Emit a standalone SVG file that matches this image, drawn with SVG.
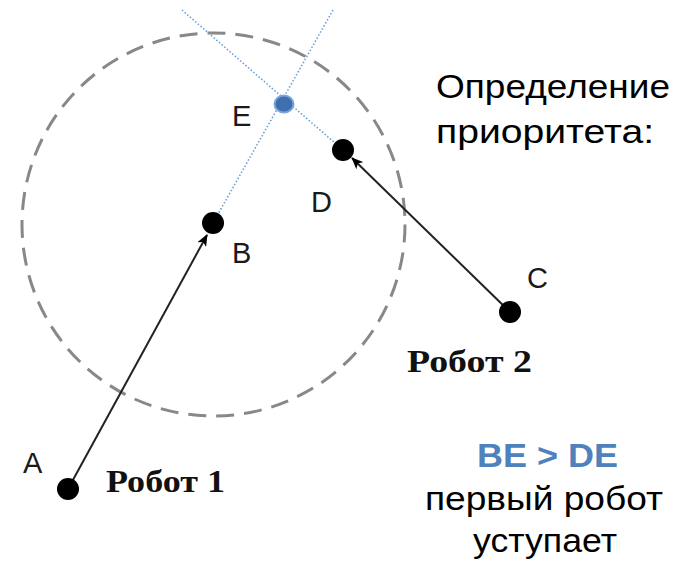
<svg xmlns="http://www.w3.org/2000/svg" width="685" height="564" viewBox="0 0 685 564">
<style>
.lbl{font-family:"Liberation Sans",Arial,sans-serif;font-size:29px;fill:#1a1a1a}
.rob{font-family:"Liberation Serif","Times New Roman",serif;font-size:32px;font-weight:bold;fill:#111}
.txt{font-family:"Liberation Sans",Arial,sans-serif;font-size:33px;fill:#000}
.dot{fill:#000}
.guide{stroke:#6a9fd8;stroke-width:1.6;stroke-dasharray:1.5 2;fill:none}
.arr{stroke:#222;stroke-width:2;fill:none;marker-end:url(#ah)}
</style>
<defs>
<marker id="ah" viewBox="0 0 12 10" refX="11" refY="5" markerWidth="12" markerHeight="10" markerUnits="userSpaceOnUse" orient="auto">
<path d="M0,0 L12,5 L0,10 L3,5 Z" fill="#000"/>
</marker>
</defs>
<rect width="685" height="564" fill="#fff"/>
<circle cx="213.5" cy="224.5" r="191.5" fill="none" stroke="#888" stroke-width="3" stroke-dasharray="18 10"/>
<g id="connectors">
<line class="guide" x1="182" y1="10" x2="343" y2="150"/>
<line class="guide" x1="333" y1="10" x2="213" y2="223"/>
<line class="arr" x1="68" y1="489" x2="207" y2="235"/>
<line class="arr" x1="510" y1="312" x2="352" y2="158"/>
</g>
<g id="nodeA"><circle class="dot" cx="68" cy="489" r="11"/><text class="lbl" x="23" y="473">A</text></g>
<g id="nodeB"><circle class="dot" cx="213" cy="223" r="11"/><text class="lbl" x="232" y="263">B</text></g>
<g id="nodeC"><circle class="dot" cx="510" cy="312" r="11"/><text class="lbl" x="527" y="288">C</text></g>
<g id="nodeD"><circle class="dot" cx="343" cy="150" r="11"/><text class="lbl" x="311" y="212">D</text></g>
<g id="nodeE"><ellipse cx="284" cy="104" rx="9.5" ry="8.5" fill="#3f6fae" stroke="#7aa6d8" stroke-width="2"/><text class="lbl" x="232" y="126">E</text></g>
<g id="robot1"><text class="rob" x="106" y="492" textLength="119" lengthAdjust="spacingAndGlyphs">Робот 1</text></g>
<g id="robot2"><text class="rob" x="407" y="372" textLength="125" lengthAdjust="spacingAndGlyphs">Робот 2</text></g>
<g id="title"><text class="txt" x="436" y="98" textLength="234" lengthAdjust="spacingAndGlyphs">Определение</text><text class="txt" x="436" y="143" textLength="218" lengthAdjust="spacingAndGlyphs">приоритета:</text></g>
<g id="result">
<text class="txt" x="477" y="467" font-weight="bold" style="fill:#4f81bd" textLength="141" lengthAdjust="spacingAndGlyphs">BE &gt; DE</text>
<text class="txt" x="425" y="510" textLength="238" lengthAdjust="spacingAndGlyphs">первый робот</text>
<text class="txt" x="473" y="552" textLength="144" lengthAdjust="spacingAndGlyphs">уступает</text>
</g>
</svg>
